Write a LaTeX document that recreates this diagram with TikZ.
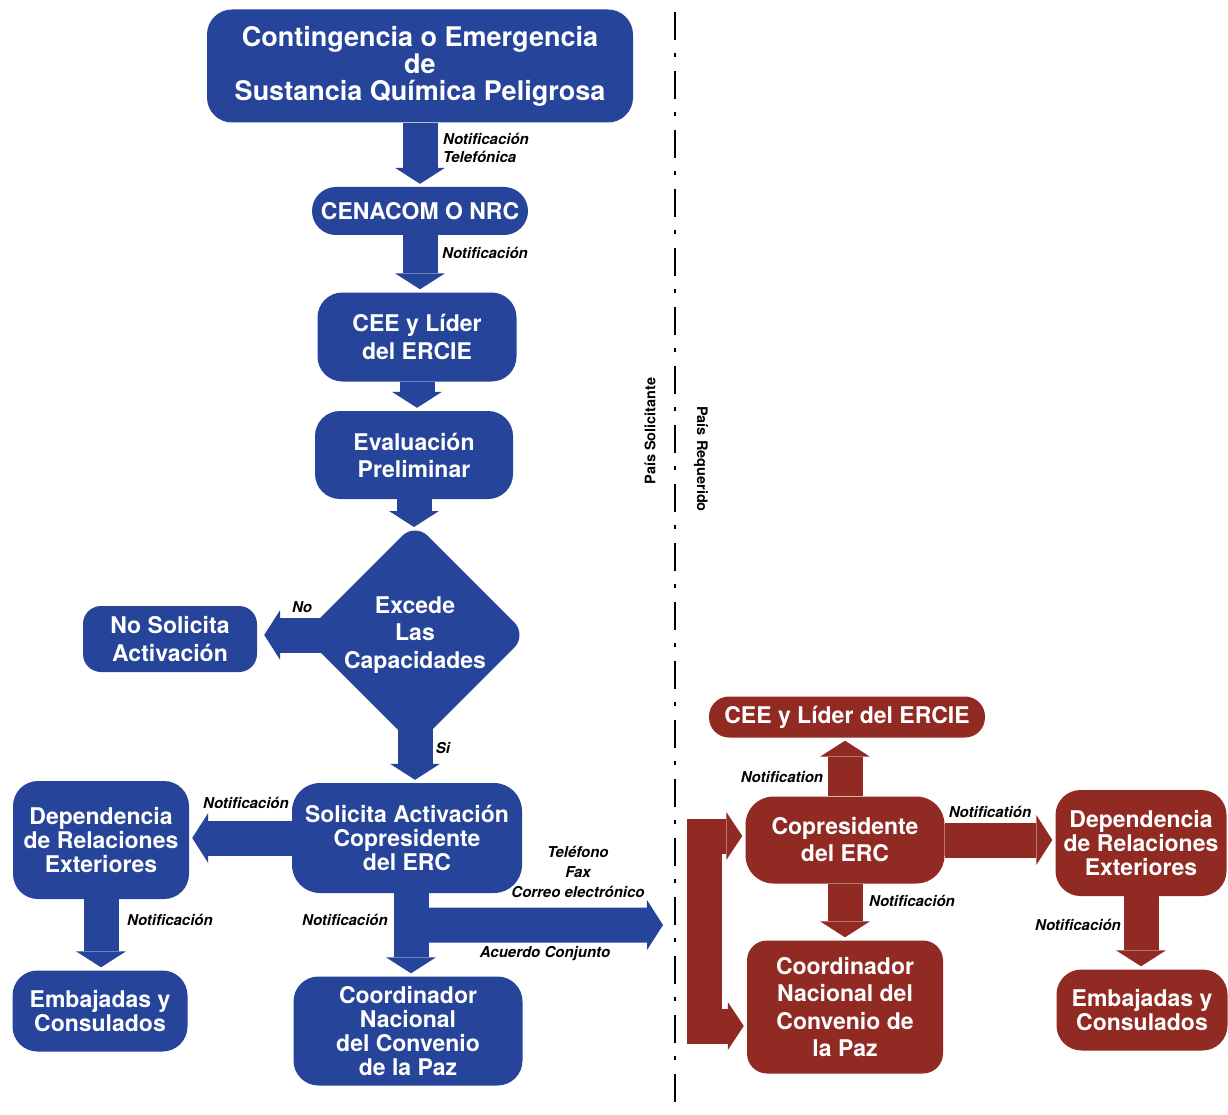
\documentclass[tikz,border=0pt]{standalone}
\usepackage{fontspec}
\setmainfont{TeX Gyre Heros}
\usetikzlibrary{shapes.geometric,arrows.meta}
\definecolor{blueC}{RGB}{38,68,154}
\definecolor{redC}{RGB}{146,42,36}
\begin{document}
\begin{tikzpicture}[x=1pt, y=-1pt,
  box/.style={rounded corners=25pt, fill=blueC, text=white, align=center, inner sep=0pt,
    font=\bfseries\fontsize{23}{24}\selectfont},
  redbox/.style={box, fill=redC},
  lbl/.style={inner sep=0pt, align=center, font=\bfseries\itshape\fontsize{15}{19}\selectfont},
  fat/.style={draw=blueC, line width=35pt, shorten >=3pt,
    -{Triangle[length=16pt, width=50pt, line width=0pt]}},
  redfat/.style={fat, draw=redC}]
\path[use as bounding box, fill=white] (0,0) rectangle (1228,1115);

% Pais solicitante
\node[box, minimum width=426pt, minimum height=113pt, font=\bfseries\fontsize{27}{27}\selectfont]
  (Contingencia) at (420,66) {Contingencia o Emergencia\\de\\Sustancia Química Peligrosa};
\node[box, rounded corners=24pt, minimum width=216pt, minimum height=48pt] (Cenacom) at (420,211) {CENACOM O NRC};
\node[box, minimum width=199pt, minimum height=89pt, font=\bfseries\fontsize{23}{28}\selectfont]
  (CeeLider) at (417,337) {CEE y Líder\\del ERCIE};
\node[box, minimum width=198pt, minimum height=88pt, font=\bfseries\fontsize{23}{27}\selectfont]
  (Evaluacion) at (414,455) {Evaluación\\Preliminar};
\node[diamond, fill=blueC, rounded corners=18pt, inner sep=0pt, minimum width=224pt, minimum height=224pt]
  (Excede) at (415,635) {};
\node[box, minimum width=174pt, minimum height=66pt, rounded corners=18pt, font=\bfseries\fontsize{23}{28}\selectfont]
  (NoSolicita) at (170,639) {No Solicita\\Activación};
\node[box, minimum width=230pt, minimum height=110pt, rounded corners=28pt]
  (Solicita) at (407,838) {Solicita Activación\\Copresidente\\del ERC};
\node[box, minimum width=176pt, minimum height=118pt] (DependenciaS) at (101,840) {Dependencia\\de Relaciones\\Exteriores};
\node[box, minimum width=175pt, minimum height=81pt] (EmbajadasS) at (100,1011) {Embajadas y\\Consulados};
\node[box, minimum width=229pt, minimum height=109pt] (CoordinadorS) at (408,1031) {Coordinador\\Nacional\\del Convenio\\de la Paz};

% Pais requerido
\node[redbox, rounded corners=20pt, minimum width=276pt, minimum height=41pt] (CeeLiderR) at (847,717) {CEE y Líder del ERCIE};
\node[redbox, minimum width=199pt, minimum height=87pt, rounded corners=28pt, font=\bfseries\fontsize{23}{27}\selectfont]
  (CopresidenteR) at (845,840) {Copresidente\\del ERC};
\node[redbox, minimum width=196pt, minimum height=133pt, rounded corners=20pt, font=\bfseries\fontsize{23}{27.5}\selectfont]
  (CoordinadorR) at (845,1007) {Coordinador\\Nacional del\\Convenio de\\la Paz};
\node[redbox, minimum width=171pt, minimum height=106pt] (DependenciaR) at (1141,843) {Dependencia\\de Relaciones\\Exteriores};
\node[redbox, minimum width=171pt, minimum height=81pt] (EmbajadasR) at (1142,1010) {Embajadas y\\Consulados};

% Flechas
\coordinate (Envio) at (663,925);
\draw[fat] (Contingencia.south) -- (Cenacom.north);
\draw[fat] (Cenacom.south) -- (Cenacom.south |- CeeLider.north);
\draw[fat] (CeeLider.south) -- (CeeLider.south |- Evaluacion.north);
\draw[fat] (Evaluacion.south) -- (Evaluacion.south |- 0,530);
\draw[fat, shorten >=7pt] ([xshift=20pt]Excede.west) -- (Excede.west -| NoSolicita.east);
\draw[fat] ([yshift=20pt]Excede.south) -- (Excede.south |- Solicita.north);
\draw[fat] (Solicita.west) -- (Solicita.west -| DependenciaS.east);
\draw[fat] (DependenciaS.south) -- (DependenciaS.south |- EmbajadasS.north);
\draw[fat] ([xshift=4pt]Solicita.south) -- ([xshift=4pt]Solicita.south |- CoordinadorS.north);
\draw[fat, shorten >=0pt] ([xshift=4pt, yshift=-32pt]Solicita.south) -- (Envio);
\draw[redfat] (CopresidenteR.north) -- (CopresidenteR.north |- CeeLiderR.south);
\draw[redfat] (CopresidenteR.east) -- (CopresidenteR.east -| DependenciaR.west);
\draw[redfat] (CopresidenteR.south) -- (CopresidenteR.south |- CoordinadorR.north);
\draw[redfat] (DependenciaR.south) -- (DependenciaR.south |- EmbajadasR.north);
\draw[redfat, line join=miter, shorten <=3pt, {Triangle[length=16pt, width=48pt, line width=0pt]}-{Triangle[length=16pt, width=48pt, line width=0pt]}]
  ([yshift=4pt]CopresidenteR.west) -- ++(-41,0) |- ([yshift=-19pt]CoordinadorR.west);

% Textos
\node[box, fill=none, font=\bfseries\fontsize{23}{27.5}\selectfont] (ExcedeTxt) at (Excede) {Excede\\Las\\Capacidades};
\node[lbl, anchor=west, align=left, font=\bfseries\itshape\fontsize{15}{18}\selectfont] (lTel) at (443,148) {Notificación\\Telefónica};
\node[lbl] (lCen) at (485,253) {Notificación};
\node[lbl] (lNo) at (302,607) {No};
\node[lbl] (lSi) at (443,748) {Si};
\node[lbl] (lDepS) at (246,803) {Notificación};
\node[lbl] (lEmbS) at (170,920) {Notificación};
\node[lbl] (lCoS) at (345,920) {Notificación};
\node[lbl, font=\bfseries\itshape\fontsize{15}{20}\selectfont] (lMedios) at (578,872) {Teléfono\\Fax\\Correo electrónico};
\node[lbl] (lAcuerdo) at (545,954) {Acuerdo Conjunto};
\node[lbl] (lCeeR) at (782,777) {Notification};
\node[lbl] (lDepR) at (990,812) {Notificatión};
\node[lbl] (lCoR) at (912,901) {Notificación};
\node[lbl] (lEmbR) at (1078,925) {Notificación};

% Division
\coordinate (DivTop) at (675,12);
\coordinate (DivBot) at (675,1115);
\draw[line width=2pt, dash pattern=on 28pt off 13pt on 4pt off 14pt] (DivTop) -- (DivBot);
\node[rotate=90, font=\bfseries\fontsize{14.5}{16}\selectfont] (Solicitante) at (650,431) {País Solicitante};
\node[rotate=-90, font=\bfseries\fontsize{14.5}{16}\selectfont] (Requerido) at (701,459) {País Requerido};
\end{tikzpicture}
\end{document}
